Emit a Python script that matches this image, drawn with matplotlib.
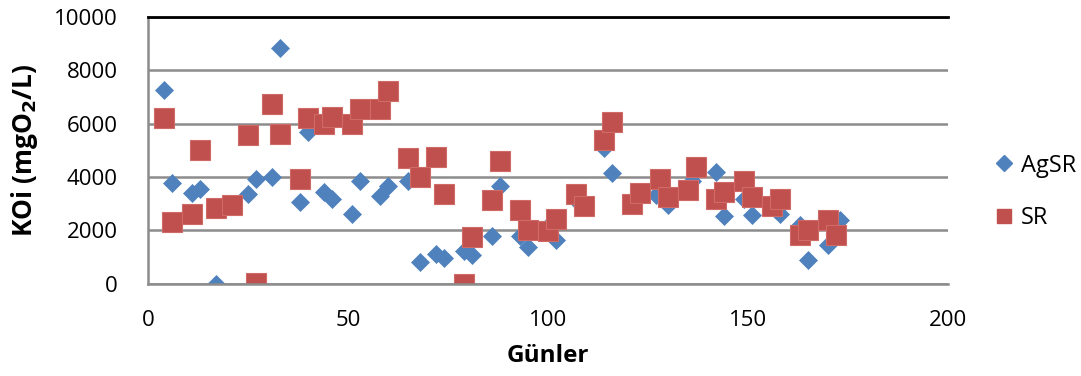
import matplotlib
matplotlib.use("Agg")
import matplotlib.pyplot as plt
from matplotlib.lines import Line2D

plt.rcParams['font.family'] = ['Open Sans', 'DejaVu Sans']

# AgSR series (day, COD)
agsr_days = [4, 6, 11, 13, 17, 25, 27, 31, 33, 38, 40, 44, 46, 51, 53, 58, 60, 65, 68,
             72, 74, 79, 81, 86, 88, 93, 95, 100, 102, 107, 114, 116, 127, 130, 136,
             142, 144, 149, 151, 157, 158, 163, 165, 170, 173]
agsr_vals = [7260, 3780, 3400, 3560, 10, 3360, 3940, 4020, 8830, 3050, 5700, 3460, 3190,
             2630, 3870, 3310, 3650, 3840, 830, 1120, 970, 1220, 1070, 1800, 3650, 1800,
             1400, 2150, 1650, 3150, 5080, 4150, 3330, 2950, 3850, 4200, 2530, 3180,
             2590, 2780, 2620, 2200, 880, 1450, 2400]

# SR series
sr_days = [4, 6, 11, 13, 17, 21, 25, 27, 31, 33, 38, 40, 44, 46, 51, 53, 58, 60, 65, 68,
           72, 74, 79, 81, 86, 88, 93, 95, 100, 102, 107, 109, 114, 116, 121, 123, 128,
           130, 135, 137, 142, 144, 149, 151, 156, 158, 163, 165, 170, 172]
sr_vals = [6200, 2320, 2620, 5000, 2840, 2960, 5560, 40, 6730, 5620, 3940, 6200, 5990,
           6260, 5990, 6550, 6550, 7240, 4710, 4000, 4770, 3370, 10, 1750, 3130, 4620,
           2780, 2000, 1970, 2430, 3370, 2930, 5390, 6080, 2990, 3400, 3930, 3240, 3520,
           4370, 3190, 3440, 3840, 3250, 2930, 3190, 1820, 2000, 2400, 1820]

blue = '#4F81BD'
red = '#C0504D'

fig = plt.figure(figsize=(10.81, 3.76), dpi=100)
ax = fig.add_axes([0.137, 0.245, 0.74, 0.71])

ax.plot(agsr_days, agsr_vals, linestyle='none', marker='D', markersize=9.6,
        color=blue, markeredgecolor=blue, markeredgewidth=0.5)
ax.plot(sr_days, sr_vals, linestyle='none', marker='s', markersize=14,
        color=red, markeredgecolor='#D06A67', markeredgewidth=0.8)

ax.set_xlim(0, 200)
ax.set_ylim(0, 10000)
ax.set_xticks([0, 50, 100, 150, 200])
ax.set_yticks([0, 2000, 4000, 6000, 8000, 10000])
ax.tick_params(length=0, labelsize=16, pad=22)
ax.tick_params(axis='x', pad=19)

ax.yaxis.grid(True, color='#8C8C8C', linewidth=1.8)
ax.set_axisbelow(True)
ax.spines['right'].set_visible(False)
ax.spines['top'].set_color('black')
ax.spines['top'].set_linewidth(2)
ax.spines['left'].set_color('#8C8C8C')
ax.spines['left'].set_linewidth(1.8)
ax.spines['bottom'].set_color('#8C8C8C')
ax.spines['bottom'].set_linewidth(1.8)

ax.set_xlabel('Günler', fontsize=17.5, fontweight='bold', labelpad=9)
ax.set_ylabel('KOi (mgO$_\\mathbf{2}$/L)', fontsize=19, fontweight='bold', labelpad=10)

handles = [Line2D([], [], linestyle='none', marker='D', markersize=8, color=blue),
           Line2D([], [], linestyle='none', marker='s', markersize=10, color=red)]
fig.legend(handles, ['AgSR', 'SR'], loc='center left', bbox_to_anchor=(0.9, 0.49),
           frameon=False, fontsize=17, handlelength=0.8, handletextpad=0.35,
           labelspacing=1.2)

fig.savefig('out.png', dpi=100)
